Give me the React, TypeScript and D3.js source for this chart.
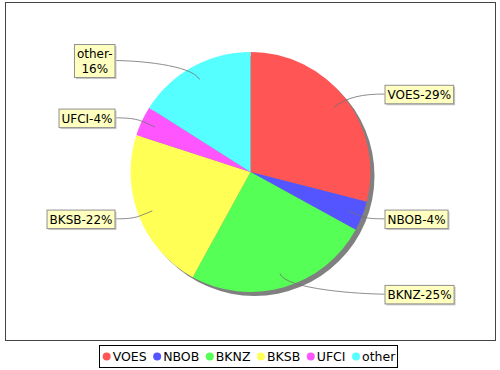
import React, { useEffect, useRef } from "react";
import * as d3 from "d3";

const names = ["VOES", "NBOB", "BKNZ", "BKSB", "UFCI", "other"];
const values = [29, 4, 25, 22, 4, 16];
const colors = ["#ff5555", "#5555ff", "#55ff55", "#ffff55", "#ff55ff", "#55ffff"];
// labels that JFreeChart wrapped onto two lines
const wrapped = ["other"];

const W = 500;
const H = 370;
const FONT = "DejaVu Sans";

export default function App() {
  const ref = useRef<SVGSVGElement>(null);

  useEffect(() => {
    const svg = d3.select(ref.current);
    svg.selectAll("*").remove();

    const cx = 250.5;
    const cy = 172;
    const R = 120;
    const total = d3.sum(values);

    // plot area border
    svg
      .append("rect")
      .attr("x", 5.5)
      .attr("y", 2.5)
      .attr("width", 490)
      .attr("height", 338)
      .attr("fill", "white")
      .attr("stroke", "#444")
      .attr("stroke-width", 1);

    const pie = d3
      .pie<number>()
      .sort(null)
      .value((d) => d);
    const arcs = pie(values);
    const arc = d3.arc<d3.PieArcDatum<number>>().innerRadius(0).outerRadius(R);

    // shadow
    svg
      .append("circle")
      .attr("cx", cx + 4)
      .attr("cy", cy + 4)
      .attr("r", R)
      .attr("fill", "#808080");

    const g = svg.append("g").attr("transform", `translate(${cx},${cy})`);
    g.selectAll("path")
      .data(arcs)
      .enter()
      .append("path")
      .attr("d", arc)
      .attr("fill", (d, i) => colors[i]);

    // labels + link curves
    const labelSize = 12;
    const lineH = 14.5;
    arcs.forEach((d, i) => {
      const mid = (d.startAngle + d.endAngle) / 2;
      const sx = cx + Math.sin(mid) * R * 0.88;
      const sy = cy - Math.cos(mid) * R * 0.88;
      const ly = cy - Math.cos(mid) * R * 1.06;
      const right = Math.sin(mid) >= 0;
      const pct = Math.round((values[i] / total) * 100);
      const lines = wrapped.includes(names[i])
        ? [`${names[i]}-`, `${pct}%`]
        : [`${names[i]}-${pct}%`];

      const link = svg.append("path");
      const shadow = svg.append("rect");
      const box = svg.append("rect");
      const texts = lines.map((l) =>
        svg
          .append("text")
          .attr("text-anchor", "middle")
          .attr("font-family", FONT)
          .attr("font-size", labelSize)
          .attr("fill", "black")
          .text(l)
      );
      const tw = d3.max(texts, (t) => (t.node() as SVGTextElement).getComputedTextLength())!;
      const bw = tw + 5;
      const bh = lines.length * lineH + 4;
      const bx = right ? cx + R + 14 : cx - R - 16 - bw;
      const by = ly - bh / 2;
      const ex = right ? bx : bx + bw;
      const ey = ly;
      const c1x = cx + Math.sin(mid) * R * 1.02;
      const c1y = cy - Math.cos(mid) * R * 1.02;
      const c2x = ex + (right ? -22 : 22);

      link
        .attr("d", `M${sx},${sy} C${c1x},${c1y} ${c2x},${ey} ${ex},${ey}`)
        .attr("fill", "none")
        .attr("stroke", "#707070")
        .attr("stroke-width", 0.8);
      shadow
        .attr("x", bx + 2)
        .attr("y", by + 2)
        .attr("width", bw)
        .attr("height", bh)
        .attr("fill", "#c8c8c8");
      box
        .attr("x", bx + 0.5)
        .attr("y", by + 0.5)
        .attr("width", bw)
        .attr("height", bh)
        .attr("fill", "#ffffc0")
        .attr("stroke", "#909090")
        .attr("stroke-width", 1);
      texts.forEach((t, k) => {
        t.attr("x", bx + 0.5 + bw / 2).attr("y", by + 2 + lineH * k + 12);
      });
    });

    // legend
    const legSize = 12.5;
    const lx0 = 99;
    const lx1 = 397;
    svg
      .append("rect")
      .attr("x", lx0 + 0.5)
      .attr("y", 345.5)
      .attr("width", lx1 - lx0)
      .attr("height", 22)
      .attr("fill", "white")
      .attr("stroke", "black")
      .attr("stroke-width", 1);
    const leg = svg.append("g");
    let x = 0;
    names.forEach((n, i) => {
      leg
        .append("circle")
        .attr("cx", x + 4)
        .attr("cy", 356.5)
        .attr("r", 4)
        .attr("fill", colors[i]);
      const t = leg
        .append("text")
        .attr("x", x + 10)
        .attr("y", 361)
        .attr("font-family", FONT)
        .attr("font-size", legSize)
        .attr("fill", "black")
        .text(n);
      x += 10 + (t.node() as SVGTextElement).getComputedTextLength();
      if (i < names.length - 1) x += 6.5;
    });
    leg.attr("transform", `translate(${(lx0 + lx1) / 2 - x / 2 + 1},0)`);
  }, []);

  return (
    <svg
      ref={ref}
      width={W}
      height={H}
      style={{ position: "absolute", left: 0, top: 0, background: "white" }}
    />
  );
}
